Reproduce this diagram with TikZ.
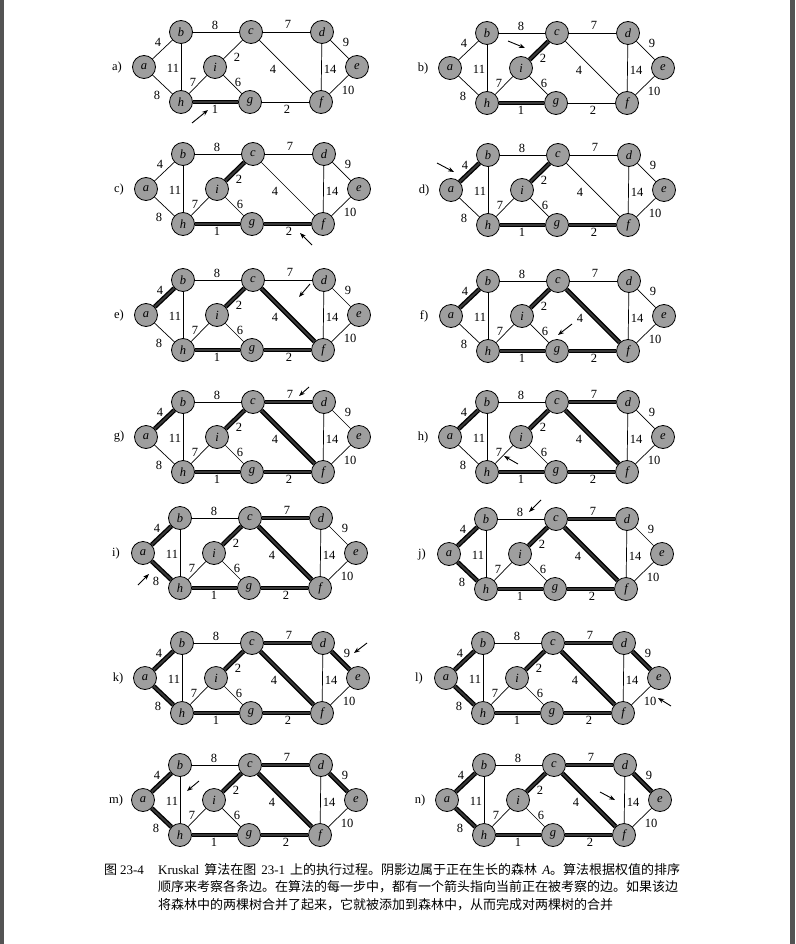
\documentclass[tikz,border=0pt]{standalone}
\usepackage{fontspec}
\setmainfont{Liberation Serif}
\newfontfamily\cjk{Noto Sans CJK SC}
\usetikzlibrary{arrows.meta}

\definecolor{vgray}{gray}{0.62}
\definecolor{tgray}{gray}{0.22}
\definecolor{sidebar}{gray}{0.33}

\tikzset{
  vertex/.style={circle, draw, line width=0.8pt, fill=vgray, minimum size=23pt,
    inner sep=0pt, font=\fontsize{12.5}{12.5}\selectfont\itshape},
  edge/.style={line width=0.7pt},
  tree/.style={line width=4.6pt, draw=black},
  treecore/.style={line width=2pt, draw=tgray},
  weight/.style={inner sep=0pt, font=\fontsize{12.5}{12.5}\selectfont},
  plabel/.style={inner sep=0pt, font=\fontsize{12.5}{12.5}\selectfont},
  pointer/.style={line width=0.9pt, -{Stealth[length=6pt, width=4.5pt]}},
  capline/.style={anchor=west, inner sep=0pt, font=\fontsize{13}{13}\selectfont\cjk},
}
\newcommand\lat[1]{{\rmfamily #1}}

\begin{document}
\begin{tikzpicture}[x=1pt, y=-1pt]
  \useasboundingbox (0,0) rectangle (795,944);
  \fill[sidebar] (0,0) rectangle (4,944);
  \fill[sidebar] (790,0) rectangle (795,944);
  % one panel per step: index/label/position/arrow tail/arrow tip
  \foreach \idx/\lab/\px/\py/\tx/\ty/\hx/\hy in {
      1/a/144/67/48/56/64/43,     2/b/450/68/58/-27/75/-20,
      3/c/146/189/166/56/154/44,  4/d/451/190/-14/-27/3/-18,
      5/e/146/315/164/-31/153/-18, 6/f/451/316/121/8/107/19,
      7/g/146/437/163/-50/153/-41, 8/h/450/437/68/27/54/19,
      9/i/143/553/-5/32/6/21,     10/j/449/554/92/-54/80/-42,
      11/k/145/678/222/-35/209/-25, 12/l/446/678/225/28/212/20,
      13/m/143/800/56/-19/44/-9,  14/n/447/800/153/-8/168/0}
  {
    \begin{scope}[shift={(\px,\py)}, name prefix=\lab-]
      \node[plabel] (tag) at (-27,0) {\lab)};
      \node[vertex] (a) at (0,0) {a};
      \node[vertex] (b) at (37,-35) {b};
      \node[vertex] (c) at (107,-35) {c};
      \node[vertex] (d) at (178,-35) {d};
      \node[vertex] (i) at (71,0) {i};
      \node[vertex] (e) at (213,0) {e};
      \node[vertex] (h) at (37,35) {h};
      \node[vertex] (g) at (106,35) {g};
      \node[vertex] (f) at (177,35) {f};
      % all edges with their weights
      \foreach \ua/\ub/\w/\wx/\wy in {a/b/4/14/-25, a/h/8/13/28, b/h/11/29/1,
          b/c/8/71/-42, c/d/7/144/-43, c/i/2/93/-10, h/i/7/49/15, i/g/6/94/15,
          c/f/4/129/2, d/f/14/186/2, d/e/9/202/-25, e/f/10/204/23,
          h/g/1/71/42, g/f/2/143/42}
      {
        \draw[edge] (\ua) -- (\ub);
        \node[weight] (w\ua\ub) at (\wx,\wy) {\w};
      }
      % forest A: edge joins at step \st
      \foreach \ua/\ub/\st in {h/g/1, c/i/2, g/f/3, a/b/4, c/f/5, c/d/7, a/h/9, d/e/11}
      {
        \ifnum\st>\idx\else
          \draw[tree] (\ua) -- (\ub);
          \draw[treecore] (\ua) -- (\ub);
        \fi
      }
      \coordinate (tail) at (\tx,\ty);
      \coordinate (tip) at (\hx,\hy);
      \draw[pointer] (tail) -- (tip);
    \end{scope}
  }
  % caption
  \node[capline] (cap0) at (104,870) {图 \lat{23-4}};
  \node[capline] (cap1) at (158,870) {\makebox[522pt][s]{\lat{Kruskal} 算法在图 \lat{23-1} 上的执行过程。阴影边属于正在生长的森林 \lat{\itshape A}。算法根据权值的排序}};
  \node[capline] (cap2) at (158,887) {顺序来考察各条边。在算法的每一步中，都有一个箭头指向当前正在被考察的边。如果该边};
  \node[capline] (cap3) at (158,905) {将森林中的两棵树合并了起来，它就被添加到森林中，从而完成对两棵树的合并};
\end{tikzpicture}
\end{document}
